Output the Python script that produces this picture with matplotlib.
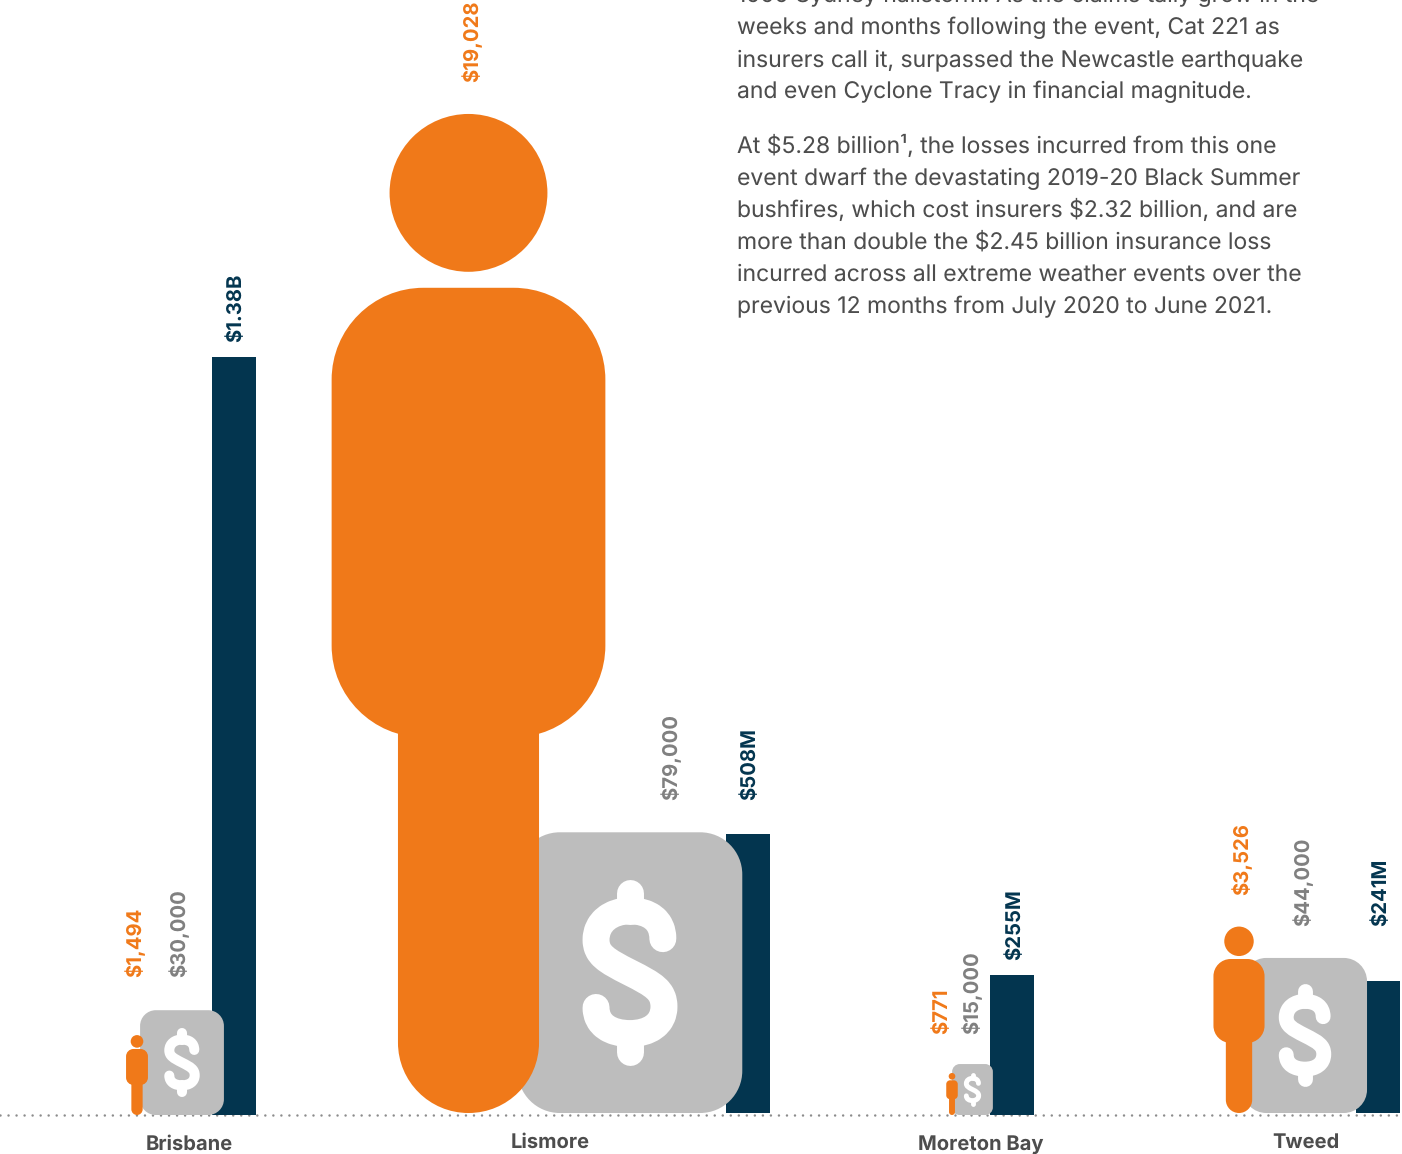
import matplotlib
matplotlib.use("Agg")
import matplotlib.pyplot as plt
from matplotlib.patches import Circle, PathPatch
from matplotlib.path import Path

#dane
cities = ["Brisbane", "Lismore", "Moreton Bay", "Tweed"]
per_person = [1494, 19028, 771, 3526]
per_claim = [30000, 79000, 15000, 44000]
total_m = [1380, 508, 255, 241]
total_labels = ["$1.38B", "$508M", "$255M", "$241M"]

paragraph = [
    "1999 Sydney hailstorm. As the claims tally grow in the",
    "weeks and months following the event, Cat 221 as",
    "insurers call it, surpassed the Newcastle earthquake",
    "and even Cyclone Tracy in financial magnitude.",
    "At $5.28 billion¹, the losses incurred from this one",
    "event dwarf the devastating 2019-20 Black Summer",
    "bushfires, which cost insurers $2.32 billion, and are",
    "more than double the $2.45 billion insurance loss",
    "incurred across all extreme weather events over the",
    "previous 12 months from July 2020 to June 2021.",
]

#uklad w pikselach obrazka
BASE_Y = 1115
base_shift = [0, 2, 0, 2]
bar_x = [234, 748, 1012, 1378]
person_x = [137, 468.5, 952, 1239]
square_x = [182, 630, 972.5, 1305]
name_x = [189, 550, 981, 1306]
name_y = [1150, 1148, 1150, 1148]
person_label = [(135, 977), (472, 82), (942, 1034), (1242, 895)]
claim_label = [(179, 977), (671, 800), (972, 1034), (1303, 926)]
total_label = [(236, 342), (750, 800), (1015, 960), (1381, 926)]
para_y = [2, 34, 66, 98, 153, 185, 217, 249, 281, 313]

#skale
PX_PER_M = 0.549
PERSON_SCALE = 0.05242
PERSON_PAD = 1.6
SQUARE_SCALE = 0.00359
SQUARE_PAD = -2.9
BAR_W = 44

ORANGE = "#f07919"
NAVY = "#03354f"
SILVER = "#bdbdbd"
LABEL_GREY = "#808080"
TEXT = "#4d4d4d"

plt.rcParams["font.family"] = ["Inter", "DejaVu Sans"]
plt.rcParams["text.hinting"] = "no_hinting"
plt.rcParams["text.hinting_factor"] = 1

fig = plt.figure(figsize=(14.02, 11.54), dpi=100)
ax = fig.add_axes([0, 0, 1, 1])
ax.set_xlim(0, 1402)
ax.set_ylim(BASE_Y - 1154, BASE_Y)
ax.axis("off")


def flip(y):
    return BASE_Y - y


def rounded(x, y, w, h, r, color, z):
    #prostokat z rogami jak luk kola
    k = 0.5523 * r
    x2, y2 = x + w, y + h
    verts = [(x + r, y), (x2 - r, y),
             (x2 - r + k, y), (x2, y + r - k), (x2, y + r), (x2, y2 - r),
             (x2, y2 - r + k), (x2 - r + k, y2), (x2 - r, y2), (x + r, y2),
             (x + r - k, y2), (x, y2 - r + k), (x, y2 - r), (x, y + r),
             (x, y + r - k), (x + r - k, y), (x + r, y), (x + r, y)]
    codes = [Path.MOVETO, Path.LINETO,
             Path.CURVE4, Path.CURVE4, Path.CURVE4, Path.LINETO,
             Path.CURVE4, Path.CURVE4, Path.CURVE4, Path.LINETO,
             Path.CURVE4, Path.CURVE4, Path.CURVE4, Path.LINETO,
             Path.CURVE4, Path.CURVE4, Path.CURVE4, Path.CLOSEPOLY]
    ax.add_patch(PathPatch(Path(verts, codes), fc=color, ec="none", zorder=z))


def draw_person(cx, y0, h):
    ax.add_patch(Circle((cx, y0 + 0.921 * h), 0.079 * h, fc=ORANGE, ec="none", zorder=4))
    rounded(cx - 0.137 * h, y0 + 0.376 * h, 0.274 * h, 0.45 * h, 0.092 * h, ORANGE, 4)
    rounded(cx - 0.0706 * h, y0, 0.1412 * h, 0.45 * h, 0.0705 * h, ORANGE, 4)


def draw_dollar(cx, cy, h):
    #krzywa S w jednostkach wysokosci kwadratu
    pts = [(0.117, 0.121), (0.117, 0.188), (0.067, 0.22), (0, 0.22),
           (-0.067, 0.22), (-0.121, 0.181), (-0.121, 0.117),
           (-0.121, 0.064), (-0.085, 0.043), (0, 0),
           (0.085, -0.043), (0.121, -0.064), (0.121, -0.121),
           (0.121, -0.185), (0.067, -0.217), (0, -0.217),
           (-0.067, -0.217), (-0.121, -0.188), (-0.121, -0.124)]
    codes = [Path.MOVETO] + [Path.CURVE4] * 18
    verts = [(cx + px * h, cy + py * h) for px, py in pts]
    lw = 0.096 * h * 0.72
    ax.add_patch(PathPatch(Path(verts, codes), fc="none", ec="white", lw=lw,
                           capstyle="round", joinstyle="round", zorder=3))
    for a, b in [(0.22, 0.285), (-0.217, -0.282)]:
        ax.plot([cx, cx], [cy + a * h, cy + b * h], color="white", lw=lw,
                solid_capstyle="round", zorder=3)


ax.plot([0, 1402], [0, 0], color="#8c8c8c", lw=1.8, dash_capstyle="round",
        linestyle=(0, (0.01, 3.2)), zorder=0)

for i in range(len(cities)):
    y0 = base_shift[i]
    ax.bar(bar_x[i], total_m[i] * PX_PER_M, bottom=y0, width=BAR_W, color=NAVY, zorder=1)

    sh = per_claim[i] * SQUARE_SCALE + SQUARE_PAD
    sw = 0.8 * sh
    rounded(square_x[i] - sw / 2, y0, sw, sh, 0.15 * sh, SILVER, 2)
    draw_dollar(square_x[i], y0 + 0.5 * sh, sh)

    draw_person(person_x[i], y0, per_person[i] * PERSON_SCALE + PERSON_PAD)

    for txt, pos, col in [(f"${per_person[i]:,}", person_label[i], ORANGE),
                          (f"${per_claim[i]:,}", claim_label[i], LABEL_GREY),
                          (total_labels[i], total_label[i], NAVY)]:
        ax.text(pos[0], flip(pos[1]), txt, rotation=90, ha="center", va="bottom",
                color=col, fontsize=14.6, fontweight="bold")

    ax.text(name_x[i], flip(name_y[i]), cities[i], ha="center", va="baseline",
            color=TEXT, fontsize=14.5, fontweight="bold")

for line, y in zip(paragraph, para_y):
    ax.text(737, flip(y), line, ha="left", va="baseline", color=TEXT, fontsize=16.5)

fig.savefig("out.png", dpi=100)
